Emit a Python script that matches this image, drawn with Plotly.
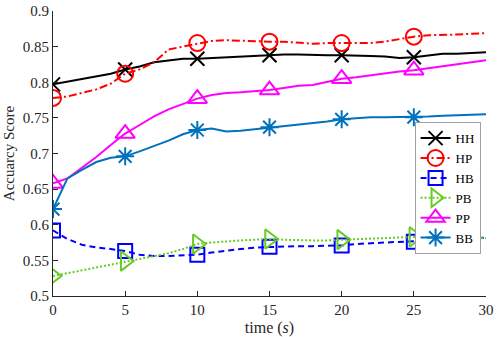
import plotly.graph_objects as go

# time axis (seconds)
t = list(range(0, 31))

# accuracy curves, one value per second
hh = [0.797, 0.801, 0.805, 0.808, 0.812, 0.818, 0.822, 0.828, 0.831, 0.833, 0.833,
      0.834, 0.834, 0.836, 0.837, 0.838, 0.839, 0.839, 0.838, 0.838, 0.838,
      0.838, 0.837, 0.836, 0.834, 0.835, 0.838, 0.840, 0.840, 0.841, 0.842]
hp = [0.778, 0.780, 0.785, 0.790, 0.798, 0.812, 0.818, 0.828, 0.846, 0.850, 0.855,
      0.858, 0.859, 0.858, 0.857, 0.857, 0.857, 0.855, 0.854, 0.855, 0.855,
      0.855, 0.855, 0.857, 0.861, 0.864, 0.866, 0.866, 0.867, 0.868, 0.869]
hb = [0.592, 0.580, 0.572, 0.568, 0.566, 0.563, 0.558, 0.556, 0.556, 0.557, 0.558,
      0.561, 0.564, 0.566, 0.568, 0.569, 0.570, 0.570, 0.570, 0.570, 0.571,
      0.573, 0.574, 0.575, 0.575, 0.576, 0.577, 0.578, 0.579, 0.580, 0.582]
pb = [0.528, 0.532, 0.536, 0.541, 0.545, 0.549, 0.552, 0.556, 0.560, 0.566, 0.573,
      0.575, 0.577, 0.578, 0.579, 0.580, 0.579, 0.578, 0.578, 0.578, 0.579,
      0.580, 0.581, 0.582, 0.583, 0.583, 0.583, 0.583, 0.582, 0.582, 0.581]
pp = [0.658, 0.665, 0.680, 0.695, 0.712, 0.728, 0.740, 0.752, 0.762, 0.770, 0.777,
      0.782, 0.785, 0.786, 0.787, 0.789, 0.792, 0.795, 0.796, 0.800, 0.805,
      0.807, 0.810, 0.812, 0.815, 0.817, 0.820, 0.822, 0.825, 0.828, 0.831]
bb = [0.622, 0.665, 0.677, 0.688, 0.694, 0.696, 0.703, 0.710, 0.718, 0.727, 0.733,
      0.735, 0.731, 0.732, 0.734, 0.737, 0.739, 0.741, 0.743, 0.745, 0.748,
      0.750, 0.751, 0.751, 0.751, 0.751, 0.752, 0.753, 0.754, 0.755, 0.755]

names = ["HH", "HP", "HB", "PB", "PP", "BB"]
series = [hh, hp, hb, pb, pp, bb]
colors = ["#000000", "#FF0000", "#0000FF", "#66CC22", "#FF00FF", "#0072BD"]
dashes = ["solid", "8px,3px,2px,3px", "6px,4px", "2px,2px", "solid", "solid"]
symbols = ["x-thin-open", "circle-open", "square-open", "triangle-right-open",
           "triangle-up-open", "asterisk-open"]
msizes = [14, 16, 14, 17, 17, 15]

fig = go.Figure()

for name, ys, c, d, s, ms in zip(names, series, colors, dashes, symbols, msizes):
    # the noisy curve
    fig.add_trace(go.Scatter(x=t, y=ys, mode="lines", showlegend=False,
                             line=dict(color=c, width=2, dash=d)))
    # markers every 5 s
    fig.add_trace(go.Scatter(x=t[::5][:6], y=ys[::5][:6], mode="markers", showlegend=False,
                             marker=dict(symbol=s, size=ms, color=c,
                                         line=dict(color=c, width=2))))
    # legend entry
    fig.add_trace(go.Scatter(x=[None], y=[None], mode="lines+markers", name=name,
                             line=dict(color=c, width=2, dash=d),
                             marker=dict(symbol=s, size=ms, color=c,
                                         line=dict(color=c, width=2))))

axis_style = dict(showline=True, linecolor="#262626", linewidth=1, ticks="inside",
                  ticklen=5, tickcolor="#262626", showgrid=False, zeroline=False,
                  automargin=False,
                  tickfont=dict(family="Liberation Serif", size=15, color="#262626"))

fig.update_xaxes(range=[0, 30], dtick=5, **axis_style,
                 title=dict(text="time (<i>s</i>)", standoff=4,
                            font=dict(family="Liberation Serif", size=16, color="#262626")))
fig.update_yaxes(range=[0.5, 0.9], dtick=0.05, **axis_style,
                 title=dict(text="Accuarcy Score", standoff=4,
                            font=dict(family="Liberation Serif", size=15, color="#262626")))

fig.update_layout(
    width=498, height=337,
    margin=dict(l=53, r=12, t=11, b=41),
    plot_bgcolor="white", paper_bgcolor="white",
    legend=dict(x=0.835, y=0.61, xanchor="left", yanchor="top",
                bordercolor="#A0A0A0", borderwidth=1, bgcolor="white",
                font=dict(family="Liberation Serif", size=13, color="#000000"),
                tracegroupgap=0, itemwidth=30),
)

# drop the page's default body margin so the figure sits at the window corner
fig.write_html("out.html", config={"displayModeBar": False},
               post_script="document.body.style.margin='0';")
